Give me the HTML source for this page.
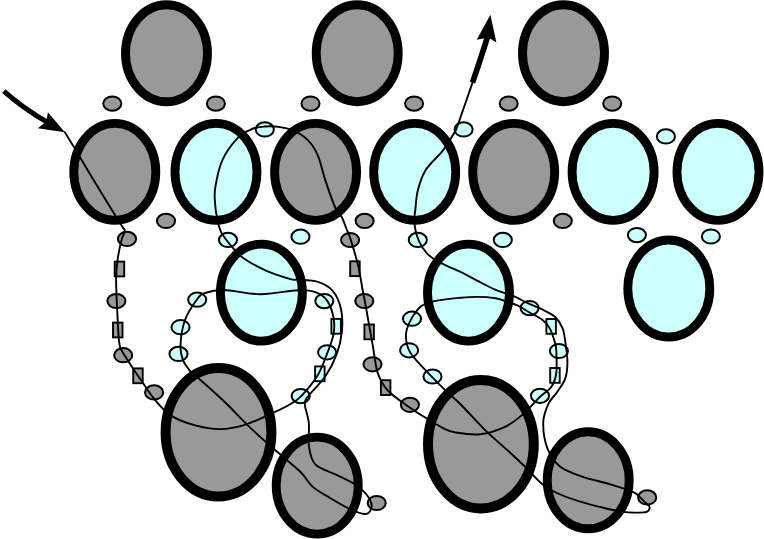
<!DOCTYPE html>
<html><head><meta charset="utf-8"><title>Beading diagram</title>
<style>
html,body{margin:0;padding:0;background:#fff;font-family:"Liberation Sans",sans-serif;}
svg{display:block}
</style></head><body>
<svg width="764" height="539" viewBox="0 0 764 539">
<rect width="764" height="539" fill="#fff"/>
<ellipse cx="166.5" cy="53.3" rx="41.0" ry="48.5" fill="#999999" stroke="#000" stroke-width="8.9"/>
<ellipse cx="357.2" cy="53.2" rx="41.0" ry="48.5" fill="#999999" stroke="#000" stroke-width="8.9"/>
<ellipse cx="563.5" cy="53.2" rx="41.0" ry="48.5" fill="#999999" stroke="#000" stroke-width="8.9"/>
<ellipse cx="114.8" cy="171.9" rx="41.0" ry="48.5" fill="#999999" stroke="#000" stroke-width="8.9"/>
<ellipse cx="216.0" cy="171.9" rx="41.0" ry="48.5" fill="#ccffff" stroke="#000" stroke-width="8.9"/>
<ellipse cx="315.6" cy="171.9" rx="41.0" ry="48.5" fill="#999999" stroke="#000" stroke-width="8.9"/>
<ellipse cx="414.7" cy="171.9" rx="41.0" ry="48.5" fill="#ccffff" stroke="#000" stroke-width="8.9"/>
<ellipse cx="513.7" cy="171.9" rx="41.0" ry="48.5" fill="#999999" stroke="#000" stroke-width="8.9"/>
<ellipse cx="613.1" cy="171.9" rx="41.0" ry="48.5" fill="#ccffff" stroke="#000" stroke-width="8.9"/>
<ellipse cx="718.0" cy="171.9" rx="41.0" ry="48.5" fill="#ccffff" stroke="#000" stroke-width="8.9"/>
<ellipse cx="261.4" cy="292.6" rx="41.0" ry="48.5" fill="#ccffff" stroke="#000" stroke-width="8.9"/>
<ellipse cx="468.5" cy="292.6" rx="41.0" ry="48.5" fill="#ccffff" stroke="#000" stroke-width="8.9"/>
<ellipse cx="668.8" cy="288.5" rx="41.0" ry="48.5" fill="#ccffff" stroke="#000" stroke-width="8.9"/>
<ellipse cx="218.5" cy="432.3" rx="52.9" ry="64.2" fill="#999999" stroke="#000" stroke-width="10"/>
<ellipse cx="480.9" cy="444.2" rx="52.9" ry="64.2" fill="#999999" stroke="#000" stroke-width="10"/>
<ellipse cx="317.2" cy="485.6" rx="41.0" ry="48.5" fill="#999999" stroke="#000" stroke-width="8.9"/>
<ellipse cx="588.2" cy="480.3" rx="41.0" ry="48.5" fill="#999999" stroke="#000" stroke-width="8.9"/>
<ellipse cx="112.3" cy="103.6" rx="9.05" ry="7.1" fill="#999999" stroke="#000" stroke-width="2.0"/>
<ellipse cx="215.9" cy="103.6" rx="9.05" ry="7.1" fill="#999999" stroke="#000" stroke-width="2.0"/>
<ellipse cx="310.5" cy="103.6" rx="9.05" ry="7.1" fill="#999999" stroke="#000" stroke-width="2.0"/>
<ellipse cx="414.1" cy="103.6" rx="9.05" ry="7.1" fill="#999999" stroke="#000" stroke-width="2.0"/>
<ellipse cx="508.7" cy="103.6" rx="9.05" ry="7.1" fill="#999999" stroke="#000" stroke-width="2.0"/>
<ellipse cx="612.2" cy="103.6" rx="9.05" ry="7.1" fill="#999999" stroke="#000" stroke-width="2.0"/>
<ellipse cx="166" cy="220.9" rx="9.05" ry="7.1" fill="#999999" stroke="#000" stroke-width="2.0"/>
<ellipse cx="364.6" cy="220.9" rx="9.05" ry="7.1" fill="#999999" stroke="#000" stroke-width="2.0"/>
<ellipse cx="562.8" cy="220.9" rx="9.05" ry="7.1" fill="#999999" stroke="#000" stroke-width="2.0"/>
<ellipse cx="127" cy="238.9" rx="9.05" ry="7.1" fill="#999999" stroke="#000" stroke-width="2.0"/>
<rect x="114.7" y="261.6" width="9.5" height="14.8" fill="#999999" stroke="#000" stroke-width="1.9"/>
<ellipse cx="116.4" cy="301" rx="9.05" ry="7.1" fill="#999999" stroke="#000" stroke-width="2.0"/>
<rect x="113.0" y="322.6" width="9.5" height="14.8" fill="#999999" stroke="#000" stroke-width="1.9"/>
<ellipse cx="123.2" cy="355.2" rx="9.05" ry="7.1" fill="#999999" stroke="#000" stroke-width="2.0"/>
<rect x="133.2" y="368.4" width="9.5" height="14.8" fill="#999999" stroke="#000" stroke-width="1.9"/>
<ellipse cx="154.1" cy="392.4" rx="9.05" ry="7.1" fill="#999999" stroke="#000" stroke-width="2.0"/>
<ellipse cx="350.1" cy="240.0" rx="9.05" ry="7.1" fill="#999999" stroke="#000" stroke-width="2.0"/>
<rect x="350.2" y="261.3" width="9.5" height="14.8" fill="#999999" stroke="#000" stroke-width="1.9"/>
<ellipse cx="364.3" cy="301" rx="9.05" ry="7.1" fill="#999999" stroke="#000" stroke-width="2.0"/>
<rect x="364.4" y="324.5" width="9.5" height="14.8" fill="#999999" stroke="#000" stroke-width="1.9"/>
<ellipse cx="372.5" cy="364.3" rx="9.05" ry="7.1" fill="#999999" stroke="#000" stroke-width="2.0"/>
<rect x="380.9" y="380.2" width="9.5" height="14.8" fill="#999999" stroke="#000" stroke-width="1.9"/>
<ellipse cx="409.9" cy="404.8" rx="9.05" ry="7.1" fill="#999999" stroke="#000" stroke-width="2.0"/>
<ellipse cx="376.7" cy="503.0" rx="9.05" ry="7.1" fill="#999999" stroke="#000" stroke-width="2.0"/>
<ellipse cx="647.2" cy="497.4" rx="9.05" ry="7.1" fill="#999999" stroke="#000" stroke-width="2.0"/>
<ellipse cx="264.8" cy="129.4" rx="9.05" ry="7.1" fill="#ccffff" stroke="#000" stroke-width="2.0"/>
<ellipse cx="463.6" cy="129.4" rx="9.05" ry="7.1" fill="#ccffff" stroke="#000" stroke-width="2.0"/>
<ellipse cx="665.9" cy="136.4" rx="9.05" ry="7.1" fill="#ccffff" stroke="#000" stroke-width="2.0"/>
<ellipse cx="228.0" cy="239.9" rx="9.05" ry="7.1" fill="#ccffff" stroke="#000" stroke-width="2.0"/>
<ellipse cx="300.5" cy="236.7" rx="9.05" ry="7.1" fill="#ccffff" stroke="#000" stroke-width="2.0"/>
<ellipse cx="417.8" cy="239.9" rx="9.05" ry="7.1" fill="#ccffff" stroke="#000" stroke-width="2.0"/>
<ellipse cx="502.8" cy="239.9" rx="9.05" ry="7.1" fill="#ccffff" stroke="#000" stroke-width="2.0"/>
<ellipse cx="636.9" cy="235.1" rx="9.05" ry="7.1" fill="#ccffff" stroke="#000" stroke-width="2.0"/>
<ellipse cx="710.9" cy="236.5" rx="9.05" ry="7.1" fill="#ccffff" stroke="#000" stroke-width="2.0"/>
<ellipse cx="197.2" cy="299.7" rx="9.05" ry="7.1" fill="#ccffff" stroke="#000" stroke-width="2.0"/>
<ellipse cx="180.5" cy="327.2" rx="9.05" ry="7.1" fill="#ccffff" stroke="#000" stroke-width="2.0"/>
<ellipse cx="178.5" cy="353.9" rx="9.05" ry="7.1" fill="#ccffff" stroke="#000" stroke-width="2.0"/>
<ellipse cx="324.3" cy="301.1" rx="9.05" ry="7.1" fill="#ccffff" stroke="#000" stroke-width="2.0"/>
<ellipse cx="327.1" cy="352.3" rx="9.05" ry="7.1" fill="#ccffff" stroke="#000" stroke-width="2.0"/>
<ellipse cx="300.7" cy="396.1" rx="9.05" ry="7.1" fill="#ccffff" stroke="#000" stroke-width="2.0"/>
<rect x="331.4" y="318.9" width="9.5" height="14.8" fill="#ccffff" stroke="#000" stroke-width="1.9"/>
<rect x="315.1" y="366.4" width="9.5" height="14.8" fill="#ccffff" stroke="#000" stroke-width="1.9"/>
<ellipse cx="412" cy="318.7" rx="9.05" ry="7.1" fill="#ccffff" stroke="#000" stroke-width="2.0"/>
<ellipse cx="409.1" cy="350.3" rx="9.05" ry="7.1" fill="#ccffff" stroke="#000" stroke-width="2.0"/>
<ellipse cx="432.5" cy="376.5" rx="9.05" ry="7.1" fill="#ccffff" stroke="#000" stroke-width="2.0"/>
<ellipse cx="529.6" cy="308.1" rx="9.05" ry="7.1" fill="#ccffff" stroke="#000" stroke-width="2.0"/>
<ellipse cx="558.9" cy="351" rx="9.05" ry="7.1" fill="#ccffff" stroke="#000" stroke-width="2.0"/>
<ellipse cx="540" cy="395.8" rx="9.05" ry="7.1" fill="#ccffff" stroke="#000" stroke-width="2.0"/>
<rect x="546.4" y="319.0" width="9.5" height="14.8" fill="#ccffff" stroke="#000" stroke-width="1.9"/>
<rect x="550.2" y="368.0" width="9.5" height="14.8" fill="#ccffff" stroke="#000" stroke-width="1.9"/>
<path d="M64.9,132.3 C66.5,134.9 71.8,143.5 74.4,147.8 C77.0,152.1 76.8,152.0 80.6,158.3 C84.4,164.6 91.4,176.4 97.1,185.8 C102.8,195.2 110.8,208.1 115.0,215.0 C119.2,221.9 120.9,224.3 122.5,227.0 C124.1,229.7 124.9,228.9 124.8,231.0 C124.7,233.1 122.9,234.9 121.7,239.5 C120.5,244.1 118.7,252.0 117.8,258.4 C116.9,264.8 116.2,269.3 116.1,278.0 C116.0,286.7 116.7,300.2 117.2,310.5 C117.7,320.8 118.3,333.6 118.9,340.0 C119.5,346.4 119.5,345.6 121.0,349.0 C122.5,352.4 124.1,354.6 127.7,360.2 C131.3,365.8 138.2,376.1 142.8,382.8 C147.4,389.5 150.7,394.9 155.4,400.4 C160.1,405.9 164.4,411.4 171.0,415.6 C177.6,419.8 187.0,423.1 195.2,425.4 C203.4,427.6 212.0,429.2 220.4,429.1 C228.8,429.0 236.7,427.3 245.5,424.6 C254.3,421.9 265.6,416.2 273.1,412.8 C280.6,409.4 285.9,406.9 290.7,404.0 C295.5,401.1 297.6,400.0 302.0,395.3 C306.4,390.6 313.2,382.8 317.4,375.8 C321.6,368.9 324.4,360.6 327.1,353.6 C329.8,346.7 332.4,340.1 333.5,334.1 C334.6,328.1 334.6,323.0 333.5,317.4 C332.4,311.8 330.0,304.8 327.1,300.6 C324.2,296.4 320.9,294.0 316.0,292.3 C311.1,290.6 307.3,289.9 298.0,290.2 C288.7,290.5 272.8,294.2 260.4,294.2 C248.0,294.2 233.1,290.2 223.9,290.0 C214.7,289.8 209.5,291.4 205.0,293.0 C200.5,294.6 200.1,295.2 196.8,299.7 C193.5,304.2 187.7,312.4 185.0,320.0 C182.3,327.6 180.8,338.3 180.5,345.0 C180.2,351.7 181.3,355.8 183.0,360.2 C184.7,364.6 188.2,368.6 190.6,371.5 C193.0,374.4 192.3,372.8 197.7,377.6 C203.1,382.4 214.1,391.9 222.9,400.3 C231.7,408.7 241.7,419.5 250.5,427.9 C259.3,436.3 267.3,443.2 275.6,450.5 C283.9,457.8 294.1,465.7 300.3,471.8 C306.5,477.9 307.8,482.5 312.8,486.9 C317.8,491.3 324.1,494.4 330.4,498.2 C336.7,502.0 345.9,507.1 350.5,509.5 C355.1,511.9 355.6,511.5 357.8,512.3 C360.0,513.0 362.1,513.9 363.9,514.0 C365.7,514.1 367.2,513.8 368.4,512.9 C369.6,512.0 370.7,510.1 371.2,508.4 C371.7,506.7 371.8,504.8 371.2,502.8 C370.6,500.8 369.2,498.2 367.8,496.2 C366.4,494.2 365.3,492.8 362.8,490.6 C360.3,488.4 357.6,485.8 353.0,483.1 C348.4,480.4 341.7,477.5 335.4,474.4 C329.1,471.3 319.7,468.9 315.3,464.3 C310.9,459.7 310.1,453.6 309.0,446.7 C307.9,439.8 309.5,430.1 308.8,422.9 C308.1,415.7 304.8,408.3 304.8,403.7 C304.8,399.1 305.5,399.9 309.0,395.3 C312.5,390.7 321.1,382.8 325.7,375.8 C330.3,368.9 334.2,361.0 336.9,353.6 C339.6,346.2 341.2,338.7 341.9,331.3 C342.6,323.9 342.5,315.7 341.0,309.0 C339.5,302.3 336.6,295.4 332.7,290.9 C328.8,286.3 323.2,283.6 317.4,281.7 C311.6,279.8 302.5,280.1 298.0,279.7 C293.5,279.3 295.9,280.7 290.5,279.1 C285.1,277.5 273.3,273.9 265.4,270.3 C257.4,266.7 248.2,261.5 242.8,257.7 C237.4,253.9 236.3,251.9 232.7,247.7 C229.1,243.5 224.0,237.6 221.4,232.6 C218.8,227.6 218.0,222.1 217.0,217.5 C216.0,212.9 215.5,209.9 215.2,205.0 C214.9,200.1 214.0,195.4 215.2,188.0 C216.4,180.6 218.5,168.7 222.3,160.3 C226.1,151.9 233.1,142.9 238.0,137.7 C242.9,132.5 247.5,130.9 252.0,129.0 C256.5,127.1 260.5,126.9 264.8,126.5 C269.1,126.1 273.4,126.2 278.0,126.8 C282.6,127.4 287.7,128.0 292.7,130.2 C297.7,132.4 303.6,136.0 307.8,140.2 C312.0,144.4 314.9,148.6 317.8,155.3 C320.7,162.0 322.5,171.6 325.4,180.4 C328.3,189.2 332.7,201.9 335.4,208.0 C338.1,214.1 339.8,213.5 341.7,217.0 C343.6,220.5 345.0,225.2 346.5,229.0 C348.0,232.8 348.9,233.8 350.9,240.1 C352.9,246.4 356.4,258.5 358.4,266.8 C360.3,275.1 361.4,283.3 362.6,290.0 C363.9,296.7 364.2,297.8 365.9,307.0 C367.6,316.2 370.7,334.2 372.7,345.2 C374.7,356.2 375.2,365.3 377.7,372.9 C380.2,380.4 382.4,384.6 387.8,390.5 C393.2,396.4 403.7,403.2 410.4,408.0 C417.1,412.8 422.6,415.9 428.0,419.3 C433.4,422.7 438.6,425.9 443.1,428.1 C447.6,430.3 449.0,431.4 455.2,432.4 C461.4,433.4 472.0,435.2 480.4,434.2 C488.8,433.2 498.4,430.0 505.5,426.6 C512.6,423.2 517.3,419.1 523.1,414.1 C528.9,409.1 535.4,401.2 540.1,396.7 C544.8,392.2 548.6,390.9 551.3,387.0 C554.0,383.1 555.5,379.0 556.3,373.0 C557.1,367.0 556.5,355.8 556.3,350.8 C556.1,345.8 556.1,346.6 555.0,342.8 C553.9,339.0 551.7,331.8 549.5,327.9 C547.3,324.0 545.4,322.2 542.0,319.6 C538.6,317.0 533.1,314.5 529.1,312.2 C525.1,309.9 521.9,307.6 517.9,305.7 C513.9,303.8 508.6,302.2 504.9,301.0 C501.2,299.8 500.3,298.9 495.7,298.2 C491.1,297.5 483.3,296.9 477.1,296.9 C470.9,296.8 464.8,297.4 458.6,297.9 C452.4,298.4 444.6,299.4 440.0,300.1 C435.4,300.8 434.2,300.9 431.0,302.0 C427.8,303.1 423.9,303.6 420.5,306.7 C417.1,309.8 412.8,315.9 410.4,320.6 C408.0,325.4 405.9,329.8 405.9,335.2 C405.9,340.6 406.3,346.1 410.4,352.8 C414.5,359.5 424.2,368.7 430.5,375.4 C436.8,382.1 443.1,388.2 448.1,393.0 C453.1,397.8 454.1,397.8 460.3,404.0 C466.5,410.2 477.0,422.2 485.4,430.4 C493.8,438.6 503.9,446.9 510.5,453.0 C517.1,459.1 519.7,461.6 525.1,466.8 C530.5,472.0 536.8,479.8 542.7,484.4 C548.6,489.0 553.2,491.4 560.3,494.5 C567.4,497.6 577.0,500.7 585.4,503.2 C593.8,505.7 603.8,508.0 610.5,509.5 C617.2,511.0 620.7,511.6 625.6,512.1 C630.5,512.6 636.7,512.6 640.0,512.6 C643.3,512.6 644.1,512.6 645.5,512.2 C646.9,511.9 647.9,511.2 648.6,510.5 C649.3,509.8 649.5,508.8 649.6,508.0 C649.7,507.2 649.7,506.5 649.0,505.6 C648.3,504.8 647.3,504.5 645.6,502.9 C643.9,501.3 641.2,498.1 639.0,496.2 C636.8,494.3 637.0,493.7 632.3,491.7 C627.5,489.7 618.7,486.9 610.5,484.4 C602.3,481.9 591.3,479.8 582.9,476.9 C574.5,474.0 566.2,471.4 560.3,466.8 C554.4,462.2 550.6,456.5 547.7,449.2 C544.9,441.9 543.1,430.5 543.2,422.9 C543.3,415.3 546.2,408.8 548.5,403.7 C550.8,398.6 554.0,396.7 556.8,392.5 C559.6,388.3 563.4,383.7 565.2,378.6 C567.0,373.5 567.4,368.2 567.4,361.9 C567.4,355.6 566.0,346.6 565.2,340.9 C564.4,335.2 564.1,331.9 562.4,327.9 C560.7,323.9 558.1,319.7 555.0,316.8 C551.9,313.9 548.5,312.6 543.9,310.3 C539.3,308.0 532.2,305.2 527.2,302.9 C522.2,300.6 519.5,298.6 514.2,296.4 C509.0,294.2 501.9,292.5 495.7,289.9 C489.5,287.3 482.8,283.5 477.1,280.6 C471.5,277.7 466.8,275.0 461.8,272.5 C456.8,270.0 451.3,267.9 446.9,265.8 C442.4,263.7 438.6,262.1 435.1,259.9 C431.7,257.7 428.8,255.5 426.2,252.5 C423.6,249.5 421.2,245.6 419.5,242.1 C417.8,238.6 416.7,235.4 415.8,231.7 C414.9,228.0 414.4,223.4 414.3,219.8 C414.2,216.2 414.7,214.9 415.3,210.0 C415.9,205.1 416.1,197.1 417.8,190.5 C419.5,183.9 421.2,177.1 425.4,170.4 C429.6,163.7 438.2,156.6 443.0,150.3 C447.8,144.0 451.9,136.8 454.3,132.7 C456.7,128.6 454.6,133.9 457.6,125.6 C460.6,117.2 470.0,89.8 472.5,82.6" fill="none" stroke="#000" stroke-width="1.9" stroke-linecap="round" stroke-linejoin="round"/>
<path d="M3.8,91.1 Q22.7,108 47,122" fill="none" stroke="#000" stroke-width="5"/>
<path d="M64.9,132.3 L47.9,112.2 L46.5,121.5 L37.8,128.2 Z" fill="#000"/>
<path d="M472.5,82.6 Q481,58 487.6,36.7" fill="none" stroke="#000" stroke-width="5.7"/>
<path d="M490.4,14.7 L496.4,42.6 L488.5,37.5 L476.7,39.7 Z" fill="#000"/>
</svg>
</body></html>
